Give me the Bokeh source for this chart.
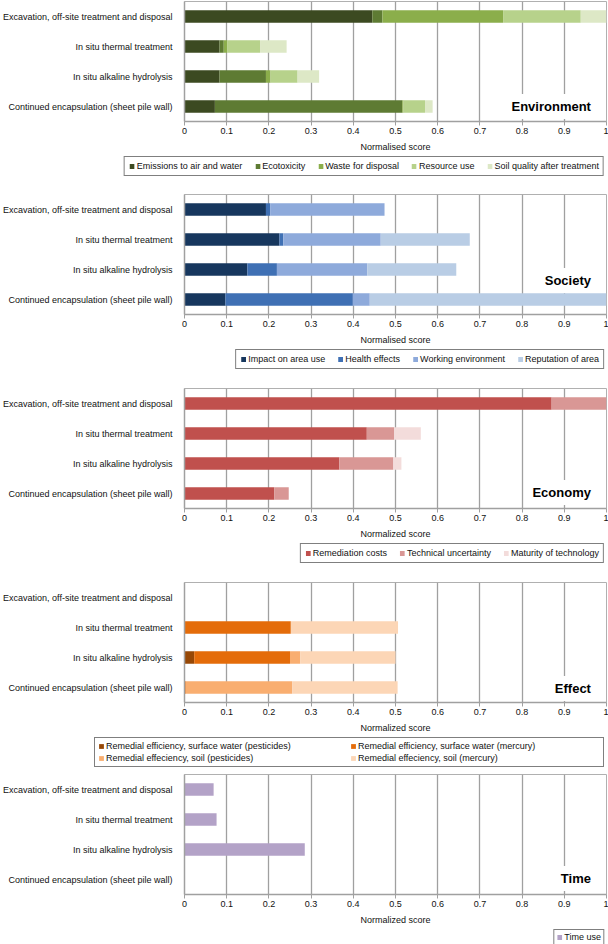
from bokeh.plotting import figure
from bokeh.models import FactorRange, Range1d, FixedTicker, Legend, LegendItem, Label
from bokeh.layouts import column
from bokeh.embed import file_html
from bokeh.resources import INLINE

# ---------------- data ----------------
categories = [
    "Excavation, off-site treatment and disposal",
    "In situ thermal treatment",
    "In situ alkaline hydrolysis",
    "Continued encapsulation (sheet pile wall)",
]
xticks = [0, 0.1, 0.2, 0.3, 0.4, 0.5, 0.6, 0.7, 0.8, 0.9, 1.0]
xtick_labels = ["0", "0.1", "0.2", "0.3", "0.4", "0.5", "0.6", "0.7", "0.8", "0.9", "1"]

# Environment
env_series = ["Emissions to air and water", "Ecotoxicity", "Waste for disposal",
              "Resource use", "Soil quality after treatment"]
env_emissions = [0.445, 0.083, 0.083, 0.072]
env_ecotoxicity = [0.024, 0.010, 0.110, 0.444]
env_waste = [0.286, 0.008, 0.011, 0.003]
env_resource = [0.184, 0.078, 0.064, 0.051]
env_soil = [0.061, 0.063, 0.051, 0.018]
env_colors = ["#3c4a21", "#5e7b33", "#8bae4b", "#b7d28b", "#dde8c6"]

# Society
soc_series = ["Impact on area use", "Health effects", "Working environment", "Reputation of area"]
soc_impact = [0.193, 0.225, 0.149, 0.097]
soc_health = [0.010, 0.009, 0.070, 0.302]
soc_working = [0.271, 0.231, 0.214, 0.040]
soc_reputation = [0.0, 0.211, 0.211, 0.561]
soc_colors = ["#17375e", "#3f70b4", "#8eaadb", "#b9cde5"]

# Economy
eco_series = ["Remediation costs", "Technical uncertainty", "Maturity of technology"]
eco_costs = [0.870, 0.432, 0.367, 0.213]
eco_uncertainty = [0.130, 0.065, 0.128, 0.034]
eco_maturity = [0.0, 0.063, 0.019, 0.0]
eco_colors = ["#c0504d", "#d99795", "#f3dcdb"]

# Effect
eff_series = ["Remedial efficiency, surface water (pesticides)",
              "Remedial efficiency, surface water (mercury)",
              "Remedial effeciency, soil (pesticides)",
              "Remedial effeciency, soil (mercury)"]
eff_sw_pesticides = [0.0, 0.0, 0.023, 0.0]
eff_sw_mercury = [0.0, 0.252, 0.227, 0.003]
eff_soil_pesticides = [0.0, 0.0, 0.024, 0.252]
eff_soil_mercury = [0.0, 0.254, 0.226, 0.250]
eff_colors = ["#974806", "#e46c0a", "#f9ae70", "#fcd6b6"]

# Time
time_series = ["Time use"]
time_use = [0.069, 0.076, 0.285, 0.0]
time_colors = ["#b3a2c7"]

FONT = "Liberation Sans"


def stack_data(series_values):
    keys = [f"s{i}" for i in range(len(series_values))]
    data = {"cat": categories}
    for k, v in zip(keys, series_values):
        data[k] = v
    return keys, data


def make_panel(series_values, colors, panel_title, axis_title, title_y):
    p = figure(y_range=FactorRange(factors=categories[::-1], range_padding=0),
               x_range=Range1d(0, 1), frame_width=422, frame_height=120,
               width=None, height=None,
               min_border_left=176, min_border_right=2, min_border_top=1,
               min_border_bottom=33, output_backend="svg", toolbar_location=None,
               background_fill_color="white", border_fill_color="white")
    keys, data = stack_data(series_values)
    p.hbar_stack(keys, y="cat", height=0.42, fill_color=colors,
                 line_color=None, source=data)

    p.xaxis.ticker = FixedTicker(ticks=xticks)
    p.xgrid.ticker = FixedTicker(ticks=xticks)
    p.xaxis.major_label_overrides = dict(zip(xticks, xtick_labels))
    p.xaxis.axis_label = axis_title
    for ax in (p.xaxis, p.yaxis):
        ax.major_label_text_font = FONT
        ax.major_label_text_font_size = "9px"
        ax.major_label_text_color = "#111111"
        ax.axis_line_color = "#a0a0a0"
        ax.axis_line_width = 1.5
    p.xaxis.axis_label_text_font = FONT
    p.xaxis.axis_label_text_font_size = "9px"
    p.xaxis.axis_label_text_font_style = "normal"
    p.xaxis.axis_label_text_color = "#111111"
    p.xaxis.axis_label_standoff = 5
    p.xaxis.major_tick_out = 4
    p.xaxis.major_tick_in = 0
    p.xaxis.major_tick_line_color = "#a0a0a0"
    p.xaxis.minor_tick_line_color = None
    p.xaxis.major_label_standoff = 2
    p.yaxis.major_tick_line_color = None
    p.yaxis.major_label_standoff = 6
    p.ygrid.grid_line_color = None
    p.xgrid.grid_line_color = "#a0a0a0"
    p.xgrid.grid_line_width = 1.3
    p.outline_line_color = "#b0b0b0"

    lab = Label(x=0.975, y=title_y, text=panel_title, text_align="right",
                text_baseline="middle", text_font=FONT, text_font_style="bold",
                text_font_size="13px", text_color="black",
                background_fill_color="white", padding=5)
    p.add_layout(lab)
    return p


def make_legend(series_names, series_values, colors, frame_h, label_width=20,
                nrows=None, spacing=12, padding=4):
    # legend strip: same stacked bars, kept outside the visible x range,
    # so only the legend shows
    q = figure(y_range=FactorRange(factors=categories[::-1], range_padding=0),
               x_range=Range1d(-2, -1),
               frame_width=606, frame_height=frame_h, width=None, height=None,
               x_axis_location=None, y_axis_location=None,
               min_border_left=0, min_border_right=0, min_border_top=0,
               min_border_bottom=0, output_backend="svg", toolbar_location=None,
               background_fill_color="white", border_fill_color="white")
    q.grid.visible = False
    q.outline_line_color = None
    keys, data = stack_data(series_values)
    rs = q.hbar_stack(keys, y="cat", height=0.42, fill_color=colors,
                      line_color=None, source=data)
    items = [LegendItem(label=n, renderers=[r]) for n, r in zip(series_names, rs)]
    leg = Legend(items=items, orientation="horizontal", location="top_right",
                 label_text_font=FONT, label_text_font_size="9px",
                 label_text_color="#111111",
                 glyph_width=6, glyph_height=6, label_height=10,
                 label_standoff=2, spacing=spacing, padding=padding, margin=2,
                 label_width=label_width,
                 border_line_color="black", border_line_width=1,
                 background_fill_color="white", background_fill_alpha=1)
    if nrows:
        leg.nrows = nrows
    q.add_layout(leg, "center")
    return q


env_values = [env_emissions, env_ecotoxicity, env_waste, env_resource, env_soil]
soc_values = [soc_impact, soc_health, soc_working, soc_reputation]
eco_values = [eco_costs, eco_uncertainty, eco_maturity]
eff_values = [eff_sw_pesticides, eff_sw_mercury, eff_soil_pesticides, eff_soil_mercury]
time_values = [time_use]

p1 = make_panel(env_values, env_colors, "Environment", "Normalised score", 0.5)
l1 = make_legend(env_series, env_values, env_colors, 39)
p2 = make_panel(soc_values, soc_colors, "Society", "Normalised score", 1.13)
l2 = make_legend(soc_series, soc_values, soc_colors, 40)
p3 = make_panel(eco_values, eco_colors, "Economy", "Normalized score", 0.53)
l3 = make_legend(eco_series, eco_values, eco_colors, 40)
p4 = make_panel(eff_values, eff_colors, "Effect", "Normalized score", 0.47)
l4 = make_legend(eff_series, eff_values, eff_colors, 38, label_width=242, nrows=2,
                 spacing=2, padding=3)
p5 = make_panel(time_values, time_colors, "Time", "Normalized score", 0.53)
l5 = make_legend(time_series, time_values, time_colors, 18, padding=2)

layout = column(p1, l1, p2, l2, p3, l3, p4, l4, p5, l5, spacing=0)
open("out.html", "w").write(file_html(layout, INLINE))
